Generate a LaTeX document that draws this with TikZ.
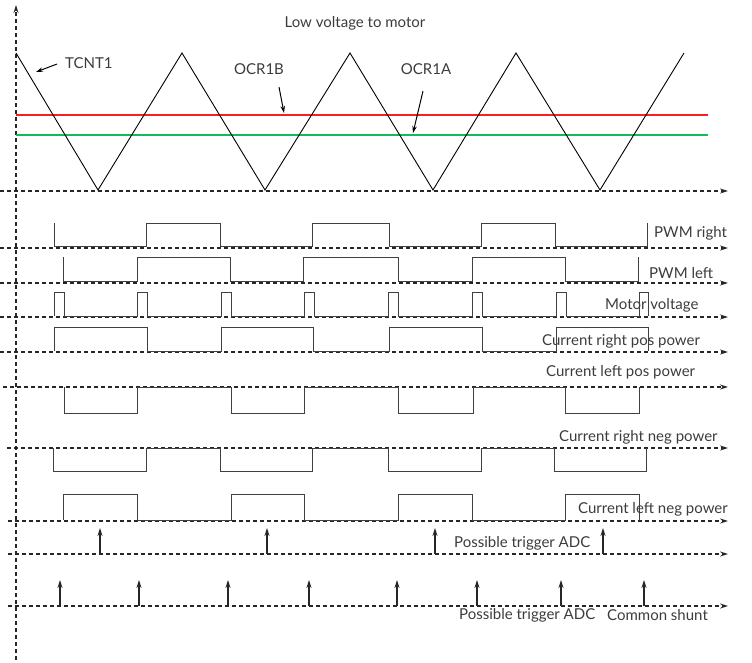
\documentclass[tikz,border=0pt]{standalone}
\usepackage{fontspec}
\setmainfont{Lato}
\usetikzlibrary{arrows.meta}
\begin{document}
\begin{tikzpicture}[x=1pt,y=-1pt,
  axisline/.style={black!85,line width=1.1pt,dash pattern=on 4pt off 3pt,-{Stealth[length=8pt,width=5pt]}},
  wave/.style={black!75,line width=0.9pt,line join=miter},
  trig/.style={black!85,line width=1.1pt,-{Stealth[length=8pt,width=5pt]}},
  note/.style={black,line width=1pt,-{Stealth[length=7pt,width=4.5pt]}},
  lbl/.style={font=\fontsize{15}{17}\selectfont,text={rgb,255:red,60;green,60;blue,60},inner sep=0pt,anchor=west},
  ttl/.style={font=\fontsize{15}{17}\selectfont,text={rgb,255:red,60;green,60;blue,60},inner sep=0pt}]
\useasboundingbox (0,0) rectangle (752,662);

% vertical axis
\coordinate (vbot) at (16,660);
\coordinate (vtop) at (16,5);
\draw[axisline] (vbot) -- (vtop);

% horizontal axes
\foreach \y/\xs in {191/0,248/0,283/0,317/0,352/0,387/3,448/7,521/8,554/8,606/8}{
  \draw[axisline] (\xs,\y) -- (728,\y);
}

% compare levels
\draw[draw={rgb,255:red,250;green,30;blue,30},line width=1.2pt] (16,115) -- (708,115);
\draw[draw={rgb,255:red,20;green,185;blue,90},line width=1.2pt] (16,135) -- (708,135);

% TCNT1 triangle
\draw[wave,black] (16,53)--(98,190)--(182,53)--(265,190)--(350,53)--(433,190)--(516,53)--(600,190)--(684,53);

% PWM right
\draw[wave] (54,223)--(54,246)--(146,246)--(146,223)--(220,223)--(220,246)--(312,246)--(312,223)--(389,223)--(389,246)--(481,246)--(481,223)--(555,223)--(555,246)--(647,246)--(647,223);
% PWM left
\draw[wave] (63,257)--(63,281)--(137,281)--(137,257)--(230,257)--(230,281)--(303,281)--(303,257)--(398,257)--(398,281)--(472,281)--(472,257)--(565,257)--(565,281)--(638,281)--(638,257);
% Motor voltage
\draw[wave] (54,316)--(54,292)--(64,292)--(64,316)--(137,316)--(137,292)--(147,292)--(147,316)--(221,316)--(221,292)--(231,292)--(231,316)--(304,316)--(304,292)--(314,292)--(314,316)--(388,316)--(388,292)--(398,292)--(398,316)--(472,316)--(472,292)--(482,292)--(482,316)--(556,316)--(556,292)--(566,292)--(566,316)--(639,316)--(639,292)--(648,292)--(648,316);
% Current right pos power
\draw[wave] (54,351)--(54,327)--(147,327)--(147,351)--(221,351)--(221,327)--(313,327)--(313,351)--(389,351)--(389,327)--(482,327)--(482,351)--(556,351)--(556,327)--(648,327)--(648,351);
% Current left pos power
\draw[wave] (64,387)--(64,413)--(137,413)--(137,387)--(231,387)--(231,413)--(304,413)--(304,387)--(398,387)--(398,413)--(473,413)--(473,387)--(565,387)--(565,413)--(639,413)--(639,387);
% Current right neg power
\draw[wave] (53,448)--(53,471)--(146,471)--(146,448)--(220,448)--(220,471)--(312,471)--(312,448)--(388,448)--(388,471)--(481,471)--(481,448)--(554,448)--(554,471)--(646,471)--(646,448);
% Current left neg power
\draw[wave] (63,520)--(63,494)--(137,494)--(137,520)--(231,520)--(231,494)--(304,494)--(304,520)--(398,520)--(398,494)--(472,494)--(472,520)--(565,520)--(565,494)--(639,494)--(639,520);

% trigger arrows
\foreach \x in {100,267,435,603}{ \draw[trig] (\x,554) -- (\x,528); }
\foreach \x in {60,139,228,309,397,477,561,644}{ \draw[trig] (\x,606) -- (\x,580); }

% labels
\node[ttl] (title) at (355,23) {Low voltage to motor};
\node[lbl] (tcnt) at (65,63) {TCNT1};
\node[ttl] (ocrb) at (259,69) {OCR1B};
\node[ttl] (ocra) at (426,69) {OCR1A};
\coordinate (tcntS) at (57,64); \coordinate (tcntE) at (36,72);
\coordinate (ocrbS) at (279,87); \coordinate (ocrbE) at (284,113);
\coordinate (ocraS) at (423,91); \coordinate (ocraE) at (413,133);
\draw[note] (tcntS) -- (tcntE);
\draw[note] (ocrbS) -- (ocrbE);
\draw[note] (ocraS) -- (ocraE);

\node[lbl] (l1) at (654,233) {PWM right};
\node[lbl] (l2) at (649,273) {PWM left};
\node[lbl] (l3) at (605,305) {Motor voltage};
\node[lbl] (l4) at (542,341) {Current right pos power};
\node[lbl] (l5) at (546,372) {Current left pos power};
\node[lbl] (l6) at (559,437) {Current right neg power};
\node[lbl] (l7) at (578,509) {Current left neg power};
\node[lbl] (l8) at (454,543) {Possible trigger ADC};
\node[lbl] (l9) at (459,615) {Possible trigger ADC};
\node[lbl] (l10) at (607,615) {Common shunt};
\end{tikzpicture}
\end{document}
